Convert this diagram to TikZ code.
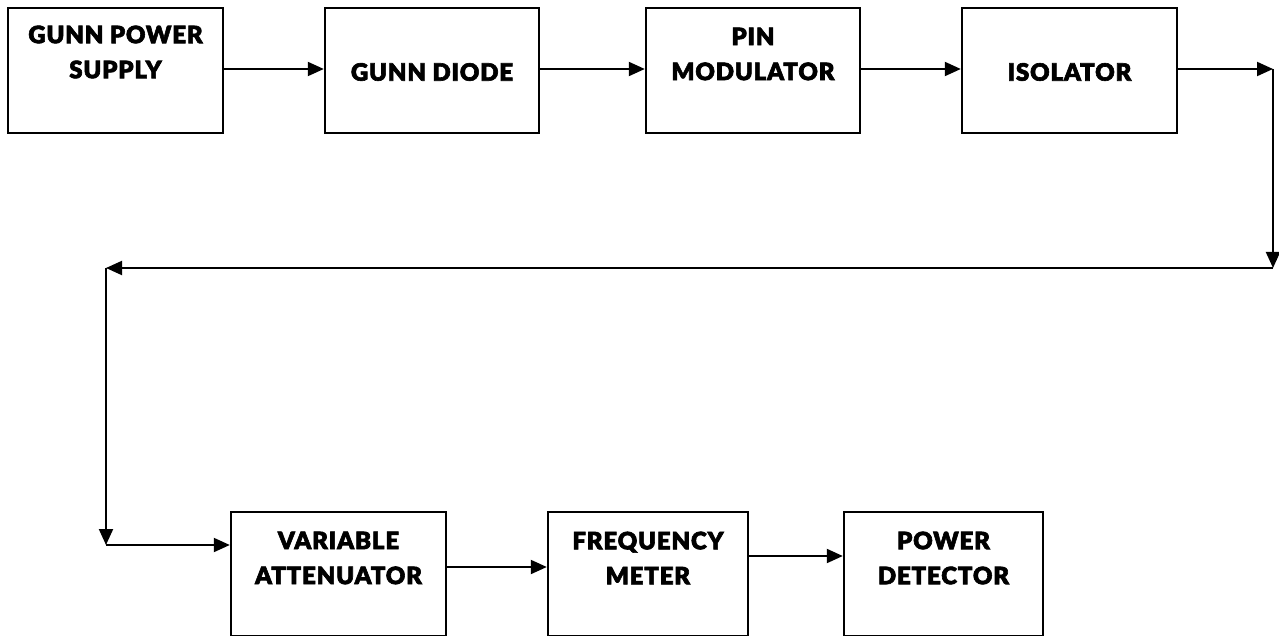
\documentclass[tikz,border=0pt]{standalone}
\usepackage{fontspec}
\newfontfamily\boxfont{Lato Black}[FakeBold=2.5,LetterSpace=3.5]
\usetikzlibrary{arrows.meta}
\begin{document}
\begin{tikzpicture}[x=1pt,y=-1pt,
  blk/.style={draw=black,line width=2.4pt,fill=none},
  lbl/.style={font=\boxfont\fontsize{24}{35}\selectfont,align=center,inner sep=0pt},
  conn/.style={line width=2pt,-{Triangle[length=16pt,width=14pt]}}]
\useasboundingbox[fill=white] (0,0) rectangle (1279,636);
% top row boxes
\node[blk,minimum width=215pt,minimum height=125pt] (b1) at (115.5,70.5) {};
\node[blk,minimum width=214pt,minimum height=125pt] (b2) at (432,70.5) {};
\node[blk,minimum width=214pt,minimum height=125pt] (b3) at (753,70.5) {};
\node[blk,minimum width=215pt,minimum height=125pt] (b4) at (1069.5,70.5) {};
% bottom row boxes
\node[blk,minimum width=215pt,minimum height=124pt] (b5) at (338.5,574) {};
\node[blk,minimum width=200pt,minimum height=124pt] (b6) at (648,574) {};
\node[blk,minimum width=199pt,minimum height=124pt] (b7) at (943.5,574) {};
% labels
\node[lbl] (t1) at (115.5,52) {GUNN POWER\\SUPPLY};
\node[lbl] (t2) at (432,72) {GUNN DIODE};
\node[lbl] (t3) at (753,54) {PIN\\MODULATOR};
\node[lbl] (t4) at (1069.5,72) {ISOLATOR};
\node[lbl] (t5) at (338.5,558) {VARIABLE\\ATTENUATOR};
\node[lbl] (t6) at (648,558) {FREQUENCY\\METER};
\node[lbl] (t7) at (943.5,558) {POWER\\DETECTOR};
% corner coordinates
\coordinate (c1) at (1273,69);
\coordinate (c2) at (1273,268);
\coordinate (c3) at (106,268);
\coordinate (c4) at (106,545);
% connectors
\draw[conn] (b1.east |- 0,69) -- (b2.west |- 0,69);
\draw[conn] (b2.east |- 0,69) -- (b3.west |- 0,69);
\draw[conn] (b3.east |- 0,69) -- (b4.west |- 0,69);
\draw[conn] (b4.east |- c1) -- (c1);
\draw[conn] (c1) -- (c2);
\draw[conn] (c2) -- (c3);
\draw[conn] (c3) -- (c4);
\draw[conn] (c4) -- (b5.west |- c4);
\draw[conn] (b5.east |- 0,567) -- (b6.west |- 0,567);
\draw[conn] (b6.east |- 0,556) -- (b7.west |- 0,556);
\end{tikzpicture}
\end{document}
